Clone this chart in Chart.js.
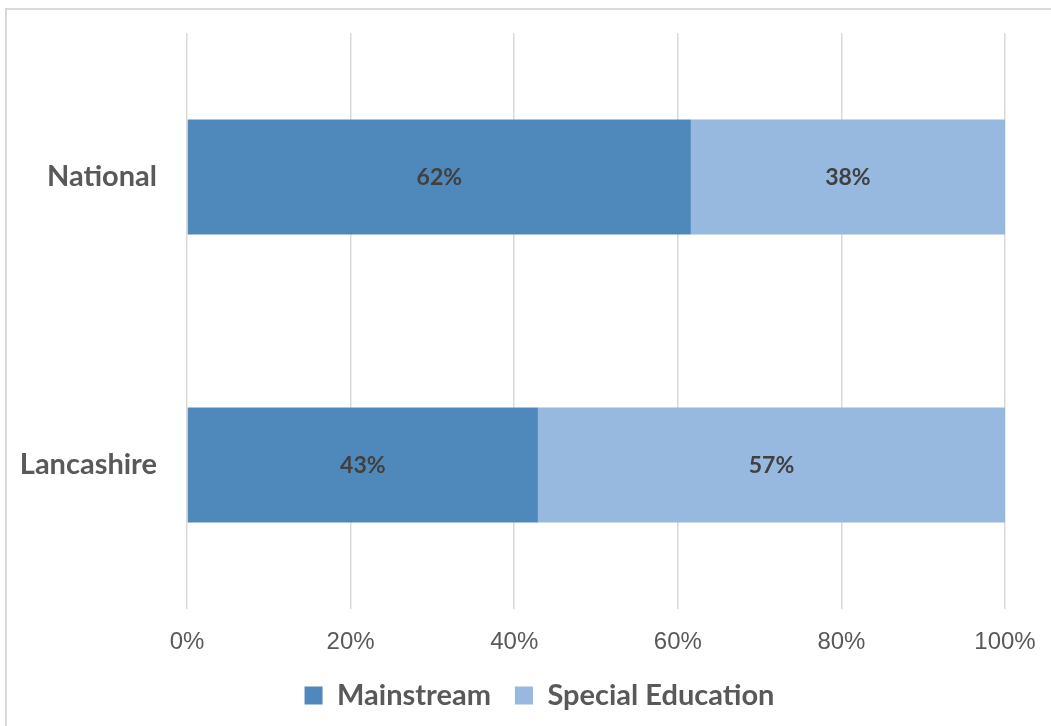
<!DOCTYPE html>
<html>
<head>
<meta charset="utf-8">
<script src="https://cdn.jsdelivr.net/npm/chart.js@4/dist/chart.umd.min.js"></script>
<style>
  html, body { margin: 0; padding: 0; background: #fff; overflow: hidden; }
  .frame { position: absolute; left: 5px; top: 8px; width: 1100px; height: 800px;
           border-left: 2px solid #d9d9d9; border-top: 2px solid #d9d9d9; }
  .chart-wrap { position: absolute; left: 0; top: 0; width: 1079px; height: 726px; }
</style>
</head>
<body>
<div class="frame"></div>
<div class="chart-wrap"><canvas id="chart" width="1079" height="726"></canvas></div>
<script>
const categories = ['National', 'Lancashire'];
const mainstream = [61.6, 42.9];
const specialEducation = [38.4, 57.1];
const tickValues = [0, 20, 40, 60, 80, 100];

// draw the percentage in the middle of each bar
const barLabels = {
    id: 'barLabels',
    afterDatasetsDraw(chart) {
        const ctx = chart.ctx;
        ctx.save();
        ctx.font = 'bold 23px Lato';
        ctx.fillStyle = '#404040';
        ctx.textAlign = 'center';
        ctx.textBaseline = 'middle';
        chart.data.datasets.forEach((ds, i) => {
            chart.getDatasetMeta(i).data.forEach((bar, j) => {
                const { x, y, base } = bar.getProps(['x', 'y', 'base'], true);
                ctx.fillText(Math.round(ds.data[j]) + '%', (x + base) / 2, y + 1);
            });
        });
        ctx.restore();
    }
};

const ctx = document.getElementById('chart').getContext('2d');
new Chart(ctx, {
    type: 'bar',
    data: {
        labels: categories,
        datasets: [{
            label: 'Mainstream',
            data: mainstream,
            backgroundColor: '#4f89bb',
            barPercentage: 0.4,
            categoryPercentage: 1
        }, {
            label: 'Special Education',
            data: specialEducation,
            backgroundColor: '#97b8df',
            barPercentage: 0.4,
            categoryPercentage: 1
        }]
    },
    options: {
        indexAxis: 'y',
        responsive: false,
        animation: false,
        devicePixelRatio: 1,
        layout: { padding: { top: 33, right: 0, left: 0, bottom: 6 } },
        plugins: {
            legend: {
                position: 'bottom',
                labels: {
                    boxWidth: 18,
                    boxHeight: 18,
                    padding: 24,
                    color: '#595959',
                    font: { family: 'Lato', size: 29, weight: 'bold' }
                }
            },
            tooltip: { enabled: false }
        },
        scales: {
            x: {
                stacked: true,
                min: 0,
                max: 100,
                afterBuildTicks: (s) => { s.ticks = tickValues.map(v => ({ value: v })); },
                // keep the plot right edge at 1005 while the legend spans the full canvas
                afterFit: (s) => { s.height = 48; s.paddingRight = 74; },
                grid: { color: '#d9d9d9', lineWidth: 1.5, drawTicks: false },
                border: { display: false },
                ticks: {
                    padding: 19,
                    color: '#595959',
                    font: { family: 'Liberation Sans', size: 24 },
                    maxRotation: 0,
                    callback: (v) => v + '%'
                }
            },
            y: {
                stacked: true,
                afterFit: (s) => { s.width = 187; s.paddingTop = 0; s.paddingBottom = 0; },
                grid: { display: false },
                border: { display: false },
                ticks: {
                    padding: 22,
                    color: '#595959',
                    font: { family: 'Lato', size: 29, weight: 'bold' }
                }
            }
        }
    },
    plugins: [barLabels]
});
</script>
</body>
</html>
